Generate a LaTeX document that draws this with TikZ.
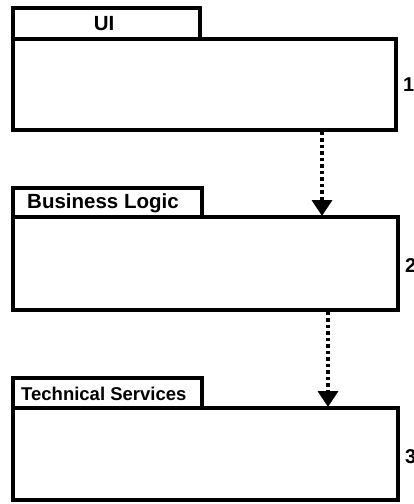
\documentclass[tikz,border=0pt]{standalone}
\usepackage{fontspec}
\setmainfont{Liberation Sans}
\usetikzlibrary{arrows.meta}
\begin{document}
\begin{tikzpicture}[x=1pt,y=-1pt,
  pkg/.style={draw=black,line width=3.5pt,fill=white},
  lbl/.style={font=\bfseries\fontsize{20.5}{22}\selectfont,inner sep=0pt},
  num/.style={font=\bfseries\fontsize{20}{22}\selectfont,inner sep=0pt,anchor=west},
  dep/.style={line width=3.5pt,dash pattern=on 3.5pt off 3pt,-{Triangle[length=16pt,width=20pt]}}]
\useasboundingbox (0,0) rectangle (413,504);
% package 1
\draw[pkg] (13,8) rectangle (200,39);
\node[lbl] (t1) at (104,24) {UI};
\draw[pkg] (13,39) rectangle (396,130);
\node (b1) [minimum width=383pt,minimum height=91pt,inner sep=0pt] at (204.5,84.5) {};
\node[num] (n1) at (403,85) {1};
% package 2
\draw[pkg] (13,188) rectangle (202,217);
\node[lbl,anchor=west] (t2) at (27,203.5) {Business Logic};
\draw[pkg] (13,217) rectangle (398,310);
\node (b2) [minimum width=385pt,minimum height=93pt,inner sep=0pt] at (205.5,263.5) {};
\node[num] (n2) at (405,266) {2};
% package 3
\draw[pkg] (13,378) rectangle (202,408);
\node[lbl,anchor=west,font=\bfseries\fontsize{18.5}{20}\selectfont] (t3) at (21,393.5) {Technical Services};
\draw[pkg] (13,408) rectangle (398,500);
\node (b3) [minimum width=385pt,minimum height=92pt,inner sep=0pt] at (205.5,454) {};
\node[num] (n3) at (405,457) {3};
% dependencies
\coordinate (a1s) at (322,131.5);
\coordinate (a1e) at (322,216);
\coordinate (a2s) at (328,311.5);
\coordinate (a2e) at (328,407);
\draw[dep] (a1s) -- (a1e);
\draw[dep] (a2s) -- (a2e);
\end{tikzpicture}
\end{document}
